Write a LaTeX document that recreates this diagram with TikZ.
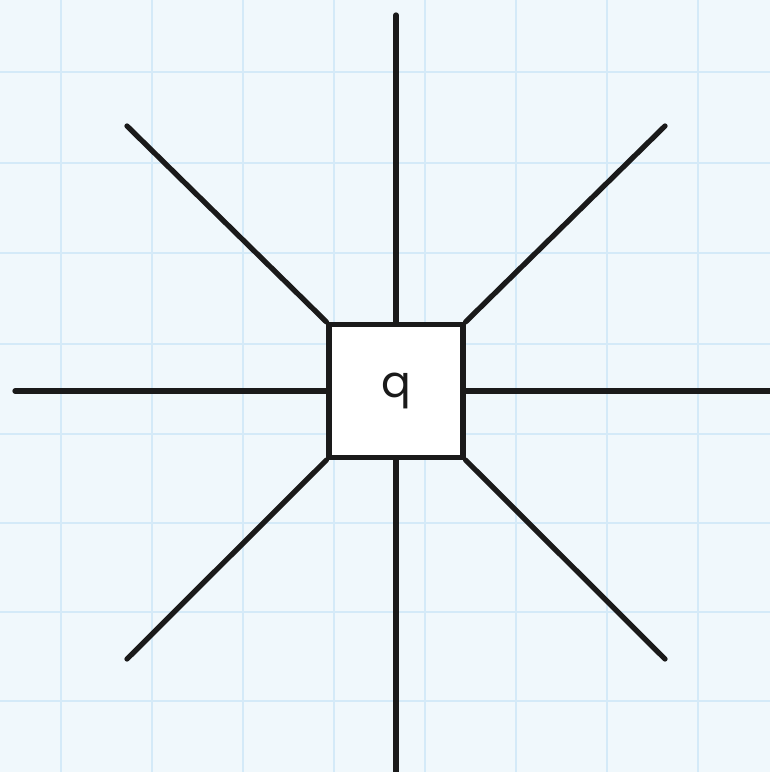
\documentclass[tikz,border=0pt]{standalone}
\usepackage{fontspec}
\setmainfont{Poppins}
\definecolor{bg}{RGB}{240,248,252}
\definecolor{grid}{RGB}{212,234,248}
\definecolor{fg}{RGB}{26,26,26}
\tikzset{
  every picture/.style={fg, line cap=round, line join=round},
  % Linientypen
  ray/.style={line width=1.5pt},
  gridline/.style={grid, line width=0.35pt},
  % Knoten
  qbox/.style={draw, fill=white, line width=1.45pt, minimum width=1.34cm,
    minimum height=1.33cm, inner sep=0pt, font=\fontsize{12.5}{14}\selectfont},
}
\begin{document}
\begin{tikzpicture}[x=0.01cm, y=-0.01cm]
  \useasboundingbox[fill=bg] (0,0) rectangle (770,772);
  % Raster
  \foreach \x in {61,152,243,334,425,516,607,698}
    \draw[gridline] (\x,0) -- (\x,772);
  \foreach \y in {72,163,253,344,434,523,612,701}
    \draw[gridline] (0,\y) -- (770,\y);
  % Ladung in der Mitte
  \node[qbox] (q) at (396,391) {q};
  % freie Enden der Strahlen
  \coordinate (n) at (396,15);
  \coordinate (s) at (396,772);
  \coordinate (w) at (15,391);
  \coordinate (e) at (770,391);
  \coordinate (nw) at (127,126);
  \coordinate (ne) at (665,126);
  \coordinate (sw) at (127,659);
  \coordinate (se) at (665,659);
  % Strahlen
  \draw[ray] (q.north) -- (n);
  \draw[ray] (q.south) -- (s);
  \draw[ray] (q.west) -- (w);
  \draw[ray] (q.east) -- (e);
  \draw[ray] (q.north west) -- (nw);
  \draw[ray] (q.north east) -- (ne);
  \draw[ray] (q.south west) -- (sw);
  \draw[ray] (q.south east) -- (se);
\end{tikzpicture}
\end{document}
